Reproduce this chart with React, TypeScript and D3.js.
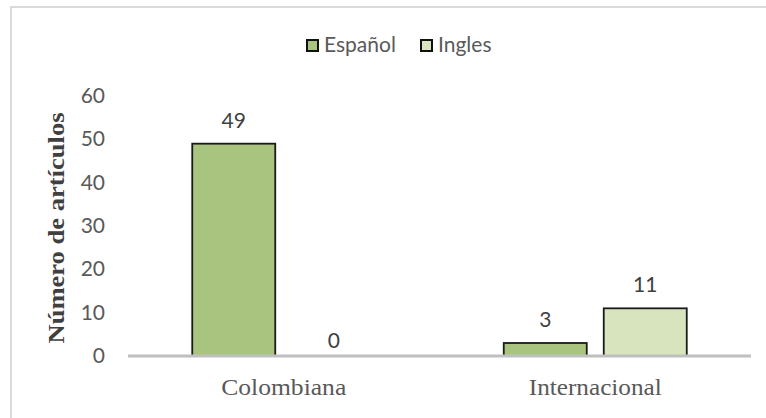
import React from "react";
import * as d3 from "d3";

const categories = ["Colombiana", "Internacional"];
const seriesNames = ["Español", "Ingles"];
const espanol = [49, 3];
const ingles = [0, 11];
const yTicks = [0, 10, 20, 30, 40, 50, 60];

const W = 766;
const H = 418;

export default function App() {
  const values = [espanol, ingles];
  const colors = ["#a9c47f", "#d7e4bd"];
  const x0 = d3.scaleBand().domain(categories).range([128, 751]).paddingInner(0).paddingOuter(0);
  const bw = 83;
  const gap = 17;
  const y = d3.scaleLinear().domain([0, 60]).range([356, 96]);
  const sans = "Lato, 'Open Sans', sans-serif";
  const serif = "'Liberation Serif', 'DejaVu Serif', serif";
  const catLen = [125, 133];

  return (
    <svg width={W} height={H} style={{ position: "absolute", left: 0, top: 0, background: "#fff" }}>
      <rect x={0} y={0} width={W} height={H} fill="#fff" />
      <line x1={11} y1={6} x2={11} y2={H} stroke="#d9d9d9" strokeWidth={2} />
      <line x1={10} y1={7} x2={W} y2={7} stroke="#d9d9d9" strokeWidth={2} />

      {/* legend */}
      {seriesNames.map((s, i) => {
        const lx = i === 0 ? 307 : 421;
        return (
          <g key={s}>
            <rect x={lx} y={40} width={11} height={11} fill={colors[i]} stroke="#111" strokeWidth={2} />
            <text x={lx + 17} y={52} fontFamily={sans} fontSize={21} fill="#595959">{s}</text>
          </g>
        );
      })}

      {/* y tick labels */}
      {yTicks.map((t) => (
        <text key={t} x={105} y={y(t) + 7} textAnchor="end" fontFamily={sans} fontSize={21} fill="#595959">{t}</text>
      ))}

      {/* y title */}
      <text
        transform={`translate(64,${228}) rotate(-90)`}
        textAnchor="middle"
        fontFamily={serif}
        fontWeight="bold"
        fontSize={23}
        textLength={231}
        lengthAdjust="spacingAndGlyphs"
        fill="#404040"
      >
        Número de artículos
      </text>

      {/* bars */}
      {categories.map((c, ci) => {
        const center = (x0(c) as number) + x0.bandwidth() / 2;
        const groupW = bw * 2 + gap;
        return values.map((vals, si) => {
          const bx = center - groupW / 2 + si * (bw + gap);
          const v = vals[ci];
          return (
            <g key={c + si}>
              {v > 0 && (
                <rect x={bx} y={y(v)} width={bw} height={y(0) - y(v)} fill={colors[si]} stroke="#1a1a1a" strokeWidth={1.8} />
              )}
              <text x={bx + bw / 2} y={y(v) - (v > 0 ? 16 : 8)} textAnchor="middle" fontFamily={sans} fontSize={21} fill="#404040">{v}</text>
            </g>
          );
        });
      })}

      {/* x axis */}
      <line x1={128} y1={356} x2={751} y2={356} stroke="#bfbfbf" strokeWidth={3} />
      {categories.map((c, ci) => (
        <text key={c} x={(x0(c) as number) + x0.bandwidth() / 2} y={395} textAnchor="middle" fontFamily={serif} fontSize={24} textLength={catLen[ci]} lengthAdjust="spacingAndGlyphs" fill="#595959">{c}</text>
      ))}
    </svg>
  );
}
